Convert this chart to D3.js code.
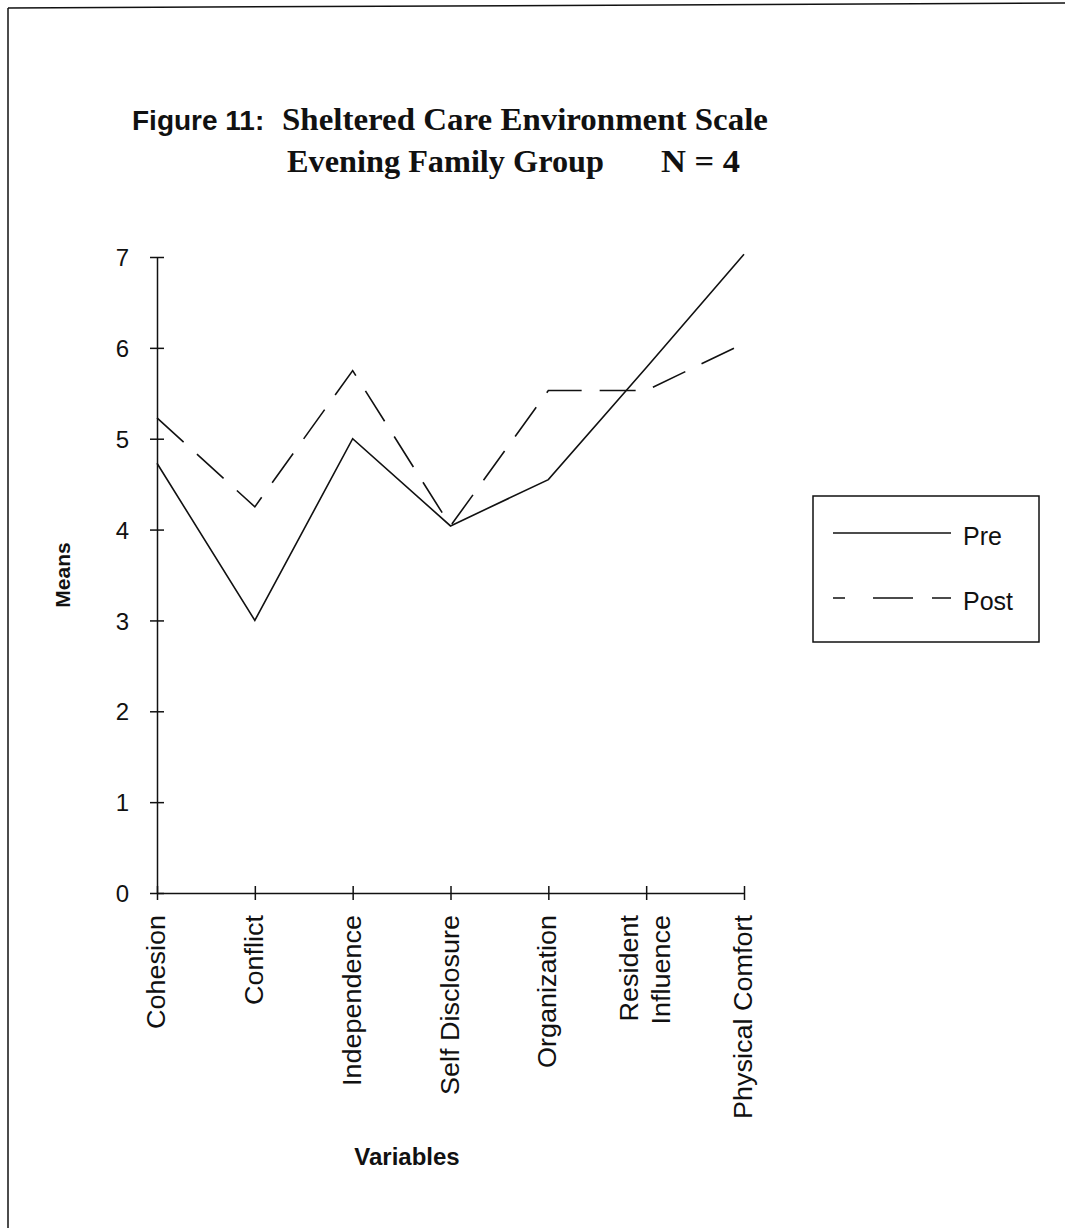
<!DOCTYPE html>
<html>
<head>
<meta charset="utf-8">
<script src="https://cdn.jsdelivr.net/npm/d3@7"></script>
<style>
  html, body { margin: 0; padding: 0; background: #fff; }
  svg { display: block; }
</style>
</head>
<body>
<svg id="chart" width="1065" height="1228"></svg>
<script>
// Sheltered Care Environment Scale, Evening Family Group, pre vs post means
const categories = ["Cohesion", "Conflict", "Independence", "Self Disclosure",
                    "Organization", "Resident\nInfluence", "Physical Comfort"];
const preMeans  = [4.73, 3.0, 5.0, 4.04, 4.55, 5.78, 7.03];
const postMeans = [5.23, 4.25, 5.75, 4.04, 5.53, 5.53, 6.05];
const yTicks = [0, 1, 2, 3, 4, 5, 6, 7];
const seriesNames = ["Pre", "Post"];

const svg = d3.select("#chart");
const ink = "#111";
const sans = "'Liberation Sans', Arial, Helvetica, sans-serif";
const serif = "'Liberation Serif', 'Times New Roman', Times, serif";

// page frame
svg.append("line").attr("x1", 8).attr("y1", 8).attr("x2", 1065).attr("y2", 3)
  .attr("stroke", ink).attr("stroke-width", 1.5);
svg.append("line").attr("x1", 8).attr("y1", 8).attr("x2", 8).attr("y2", 1228)
  .attr("stroke", ink).attr("stroke-width", 1.5);

// title (serif parts are tall and narrow, so fit them to their span)
const title = svg.append("g").attr("fill", ink);
title.append("text").attr("x", 132).attr("y", 130)
  .attr("font-family", sans).attr("font-weight", "bold").attr("font-size", 28)
  .text("Figure 11:");
const serifTitle = [
  { t: "Sheltered Care Environment Scale", x: 282, y: 130, w: 486 },
  { t: "Evening Family Group", x: 287, y: 172, w: 317 },
  { t: "N = 4", x: 661, y: 172, w: 79 }
];
serifTitle.forEach(s => {
  title.append("text").attr("x", s.x).attr("y", s.y)
    .attr("font-family", serif).attr("font-weight", "bold").attr("font-size", 31)
    .attr("textLength", s.w).attr("lengthAdjust", "spacingAndGlyphs")
    .text(s.t);
});

// scales
const x = d3.scalePoint().domain(categories).range([157, 744]);
const y = d3.scaleLinear().domain([0, 7]).range([893, 257]);

// y axis
const yAxis = svg.append("g").attr("transform", `translate(${x.range()[0]},0)`)
  .call(d3.axisLeft(y).tickValues(yTicks).tickFormat(d3.format("d"))
    .tickSize(7).tickSizeOuter(0).tickPadding(21));
yAxis.select(".domain").attr("stroke", ink).attr("stroke-width", 1.5);
yAxis.selectAll(".tick line").attr("stroke", ink).attr("stroke-width", 1.5).attr("x2", 7).attr("x1", -7);
yAxis.selectAll(".tick text").attr("font-family", sans).attr("font-size", 24).attr("fill", ink)
  .attr("dy", "0.36em");

// x axis
const xAxis = svg.append("g").attr("transform", `translate(0,${y(0)})`)
  .call(d3.axisBottom(x).tickSize(7).tickSizeOuter(0).tickFormat(""));
xAxis.select(".domain").attr("stroke", ink).attr("stroke-width", 1.5);
xAxis.selectAll(".tick line").attr("stroke", ink).attr("stroke-width", 1.5).attr("y1", -7).attr("y2", 7);

// rotated category labels
const labelG = svg.append("g").attr("font-family", sans).attr("font-size", 25).attr("fill", ink);
categories.forEach(c => {
  const lines = c.split("\n");
  const gap = 32;
  lines.forEach((ln, i) => {
    const off = (i - (lines.length - 1) / 2) * gap;
    labelG.append("text")
      .attr("transform", `translate(${x(c) + 8 + off},915) scale(1,1.08) rotate(-90)`)
      .attr("text-anchor", "end")
      .text(ln);
  });
});

// axis titles
svg.append("text").attr("transform", `translate(70,575) rotate(-90)`)
  .attr("text-anchor", "middle").attr("font-family", sans).attr("font-weight", "bold")
  .attr("font-size", 21).attr("fill", ink).text("Means");
svg.append("text").attr("x", 407).attr("y", 1165)
  .attr("text-anchor", "middle").attr("font-family", sans).attr("font-weight", "bold")
  .attr("font-size", 24).attr("fill", ink).text("Variables");

// series lines
const line = d3.line().x((d, i) => x(categories[i])).y(d => y(d));
const dash = "36,18";
svg.append("path").datum(preMeans).attr("d", line)
  .attr("fill", "none").attr("stroke", ink).attr("stroke-width", 1.6);
svg.append("path").datum(postMeans).attr("d", line)
  .attr("fill", "none").attr("stroke", ink).attr("stroke-width", 1.6)
  .attr("stroke-dasharray", dash);

// legend
const lg = svg.append("g");
lg.append("rect").attr("x", 813).attr("y", 496).attr("width", 226).attr("height", 146)
  .attr("fill", "none").attr("stroke", ink).attr("stroke-width", 1.5);
const legendRows = [{ name: seriesNames[0], y: 533, dash: null },
                    { name: seriesNames[1], y: 598, dash: "12,28,40,19,20" }];
legendRows.forEach(r => {
  lg.append("line").attr("x1", 833).attr("x2", 951).attr("y1", r.y).attr("y2", r.y)
    .attr("stroke", ink).attr("stroke-width", 1.6)
    .attr("stroke-dasharray", r.dash);
  lg.append("text").attr("x", 963).attr("y", r.y + 12)
    .attr("font-family", sans).attr("font-size", 25).attr("fill", ink).text(r.name);
});
</script>
</body>
</html>
